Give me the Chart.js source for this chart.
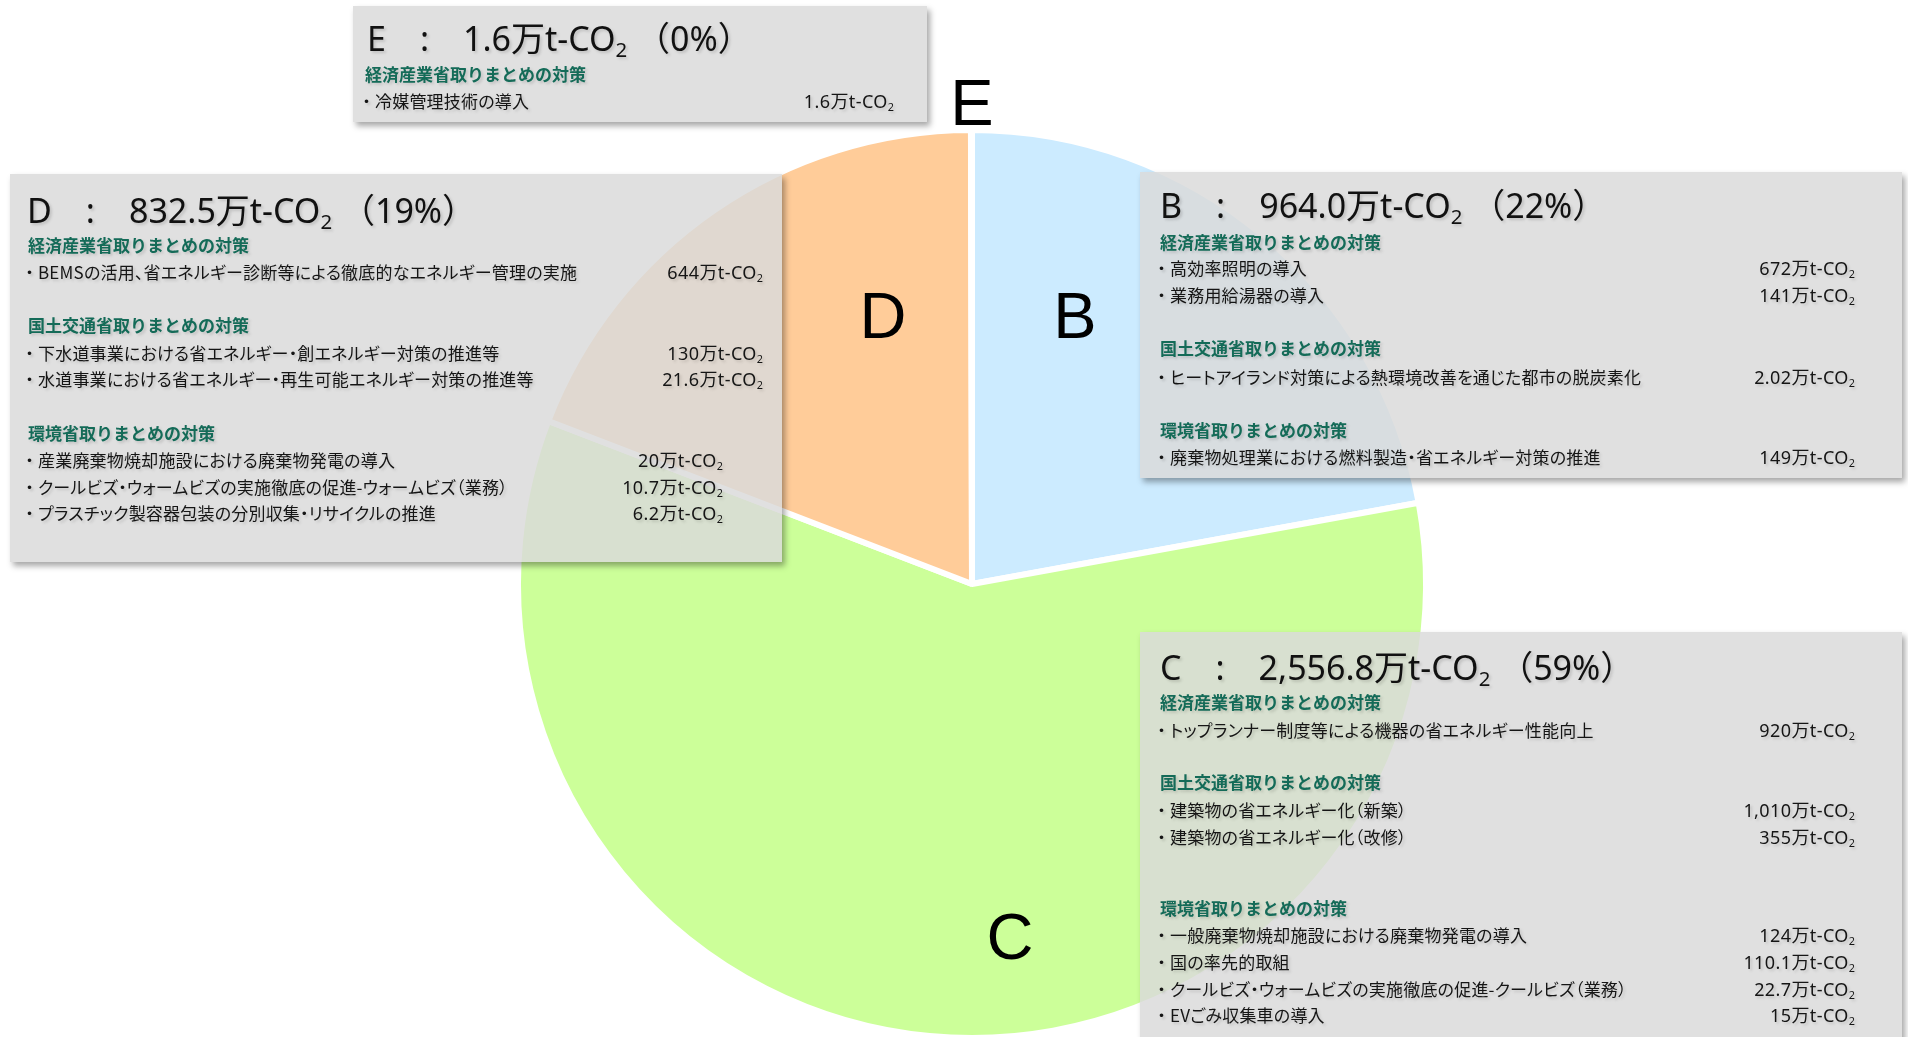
<!DOCTYPE html>
<html lang="ja">
<head>
<meta charset="utf-8">
<script src="https://cdn.jsdelivr.net/npm/chart.js@4/dist/chart.umd.min.js"></script>
<style>
  html, body { margin: 0; padding: 0; background: #fff; overflow: hidden; }
  body { width: 1908px; height: 1037px; position: relative; font-family: "Noto Sans CJK JP", "Noto Sans", sans-serif; }
  #pie { position: absolute; left: 0; top: 0; }
  .box { position: absolute; background: rgba(218, 218, 218, 0.84); box-shadow: 3px 4px 6px rgba(0, 0, 0, 0.35); }
  .box div { position: absolute; white-space: nowrap; text-shadow: 2px 2px 3px rgba(0, 0, 0, 0.15); }
  .t { font-family: "Noto Sans", "Noto Sans CJK JP", sans-serif; font-size: 34px; line-height: 40px; color: #111; }
  .h { font-size: 17px; line-height: 22px; font-weight: bold; color: #146b58; }
  .i { font-size: 17px; line-height: 22px; color: #151515; font-feature-settings: "palt"; letter-spacing: 0.2px; }
  .i .dot { font-feature-settings: normal; letter-spacing: 0; }
  .v { font-family: "Noto Sans", "Noto Sans CJK JP", sans-serif; font-size: 18px; line-height: 22px; letter-spacing: 0.4px; color: #151515; text-align: right; }
  sub { font-size: 60%; vertical-align: -0.3em; line-height: 0; letter-spacing: 0; }
</style>
</head>
<body>
<canvas id="pie" width="1908" height="1045"></canvas>

<div class="box" style="left:353px; top:6px; width:574px; height:116px;">
  <div class="t" style="left:14px; top:12px;">E　:　1.6万t-CO<sub>2</sub> （0%）</div>
  <div class="h" style="left:12px; top:57px;">経済産業省取りまとめの対策</div>
  <div class="i" style="left:5px; top:84px;">・冷媒管理技術の導入</div>
  <div class="v" style="right:33px; top:84px;">1.6万t-CO<sub>2</sub></div>
</div>

<div class="box" style="left:10px; top:174px; width:772px; height:388px;">
  <div class="t" style="left:17px; top:16px;">D　:　832.5万t-CO<sub>2</sub> （19%）</div>
  <div class="h" style="left:18px; top:60px;">経済産業省取りまとめの対策</div>
  <div class="i" style="left:11px; top:87px;">・BEMSの活用、省エネルギー診断等による徹底的なエネルギー管理の実施</div>
  <div class="v" style="right:19px; top:87px;">644万t-CO<sub>2</sub></div>
  <div class="h" style="left:18px; top:140px;">国土交通省取りまとめの対策</div>
  <div class="i" style="left:11px; top:168px;">・下水道事業における省エネルギー・創エネルギー対策の推進等</div>
  <div class="v" style="right:19px; top:168px;">130万t-CO<sub>2</sub></div>
  <div class="i" style="left:11px; top:194px;">・水道事業における省エネルギー・再生可能エネルギー対策の推進等</div>
  <div class="v" style="right:19px; top:194px;">21.6万t-CO<sub>2</sub></div>
  <div class="h" style="left:18px; top:248px;">環境省取りまとめの対策</div>
  <div class="i" style="left:11px; top:275px;">・産業廃棄物焼却施設における廃棄物発電の導入</div>
  <div class="v" style="right:59px; top:275px;">20万t-CO<sub>2</sub></div>
  <div class="i" style="left:11px; top:302px;">・クールビズ・ウォームビズの実施徹底の促進-ウォームビズ（業務）</div>
  <div class="v" style="right:59px; top:302px;">10.7万t-CO<sub>2</sub></div>
  <div class="i" style="left:11px; top:328px;">・プラスチック製容器包装の分別収集・リサイクルの推進</div>
  <div class="v" style="right:59px; top:328px;">6.2万t-CO<sub>2</sub></div>
</div>

<div class="box" style="left:1140px; top:172px; width:762px; height:306px;">
  <div class="t" style="left:20px; top:13px;">B　:　964.0万t-CO<sub>2</sub> （22%）</div>
  <div class="h" style="left:20px; top:59px;">経済産業省取りまとめの対策</div>
  <div class="i" style="left:13px; top:85px;">・高効率照明の導入</div>
  <div class="v" style="right:47px; top:85px;">672万t-CO<sub>2</sub></div>
  <div class="i" style="left:13px; top:112px;">・業務用給湯器の導入</div>
  <div class="v" style="right:47px; top:112px;">141万t-CO<sub>2</sub></div>
  <div class="h" style="left:20px; top:165px;">国土交通省取りまとめの対策</div>
  <div class="i" style="left:13px; top:194px;">・ヒートアイランド対策による熱環境改善を通じた都市の脱炭素化</div>
  <div class="v" style="right:47px; top:194px;">2.02万t-CO<sub>2</sub></div>
  <div class="h" style="left:20px; top:247px;">環境省取りまとめの対策</div>
  <div class="i" style="left:13px; top:274px;">・廃棄物処理業における燃料製造・省エネルギー対策の推進</div>
  <div class="v" style="right:47px; top:274px;">149万t-CO<sub>2</sub></div>
</div>

<div class="box" style="left:1140px; top:632px; width:762px; height:420px;">
  <div class="t" style="left:20px; top:15px;">C　:　2,556.8万t-CO<sub>2</sub> （59%）</div>
  <div class="h" style="left:20px; top:59px;">経済産業省取りまとめの対策</div>
  <div class="i" style="left:13px; top:87px;">・トップランナー制度等による機器の省エネルギー性能向上</div>
  <div class="v" style="right:47px; top:87px;">920万t-CO<sub>2</sub></div>
  <div class="h" style="left:20px; top:139px;">国土交通省取りまとめの対策</div>
  <div class="i" style="left:13px; top:167px;">・建築物の省エネルギー化（新築）</div>
  <div class="v" style="right:47px; top:167px;">1,010万t-CO<sub>2</sub></div>
  <div class="i" style="left:13px; top:194px;">・建築物の省エネルギー化（改修）</div>
  <div class="v" style="right:47px; top:194px;">355万t-CO<sub>2</sub></div>
  <div class="h" style="left:20px; top:265px;">環境省取りまとめの対策</div>
  <div class="i" style="left:13px; top:292px;">・一般廃棄物焼却施設における廃棄物発電の導入</div>
  <div class="v" style="right:47px; top:292px;">124万t-CO<sub>2</sub></div>
  <div class="i" style="left:13px; top:319px;">・国の率先的取組</div>
  <div class="v" style="right:47px; top:319px;">110.1万t-CO<sub>2</sub></div>
  <div class="i" style="left:13px; top:346px;">・クールビズ・ウォームビズの実施徹底の促進-クールビズ（業務）</div>
  <div class="v" style="right:47px; top:346px;">22.7万t-CO<sub>2</sub></div>
  <div class="i" style="left:13px; top:372px;">・EVごみ収集車の導入</div>
  <div class="v" style="right:47px; top:372px;">15万t-CO<sub>2</sub></div>
</div>

<script>
// slices clockwise from 12 o'clock
const categories = ["B", "C", "D", "E"];
const reductions = [964.0, 2556.8, 832.5, 1.6]; // 万t-CO2
const sliceColors = ["#CCEBFF", "#CCFF99", "#FFCC99", "#D9D9D9"];

// big letters, offset from the pie centre (x, baseline)
const letterOffsets = {
    B: [103, -246],
    C: [38, 375],
    D: [-89, -246],
    E: [0, -459],
};

// keep the leading bullet full width, the rest proportional
document.querySelectorAll(".i").forEach((el) => {
    const txt = el.textContent;
    el.innerHTML = '<span class="dot">' + txt[0] + "</span>" + txt.slice(1);
});

const letterPlugin = {
    id: "letters",
    afterDatasetsDraw(chart) {
        const ctx = chart.ctx;
        const arc = chart.getDatasetMeta(0).data[0];
        ctx.save();
        ctx.fillStyle = "#000";
        ctx.font = "65px 'Liberation Sans', Arial, sans-serif";
        ctx.textAlign = "center";
        ctx.textBaseline = "alphabetic";
        categories.forEach((c) => {
            const off = letterOffsets[c];
            ctx.fillText(c, arc.x + off[0], arc.y + off[1]);
        });
        ctx.restore();
    },
};

const piechart = document.getElementById("pie").getContext("2d");

new Chart(piechart, {
    type: "pie",
    data: {
        labels: categories,
        datasets: [{
            data: reductions,
            backgroundColor: sliceColors,
            borderColor: "#ffffff",
            borderWidth: 6,
            hoverBorderWidth: 6,
            offset: 0,
            hoverOffset: 0,
        }],
    },
    options: {
        responsive: false,
        animation: false,
        events: [],
        layout: {
            padding: { left: 515, right: 479, top: 127, bottom: 4 },
        },
        plugins: {
            legend: { display: false },
            tooltip: { enabled: false },
        },
    },
    plugins: [letterPlugin],
});
</script>
</body>
</html>
